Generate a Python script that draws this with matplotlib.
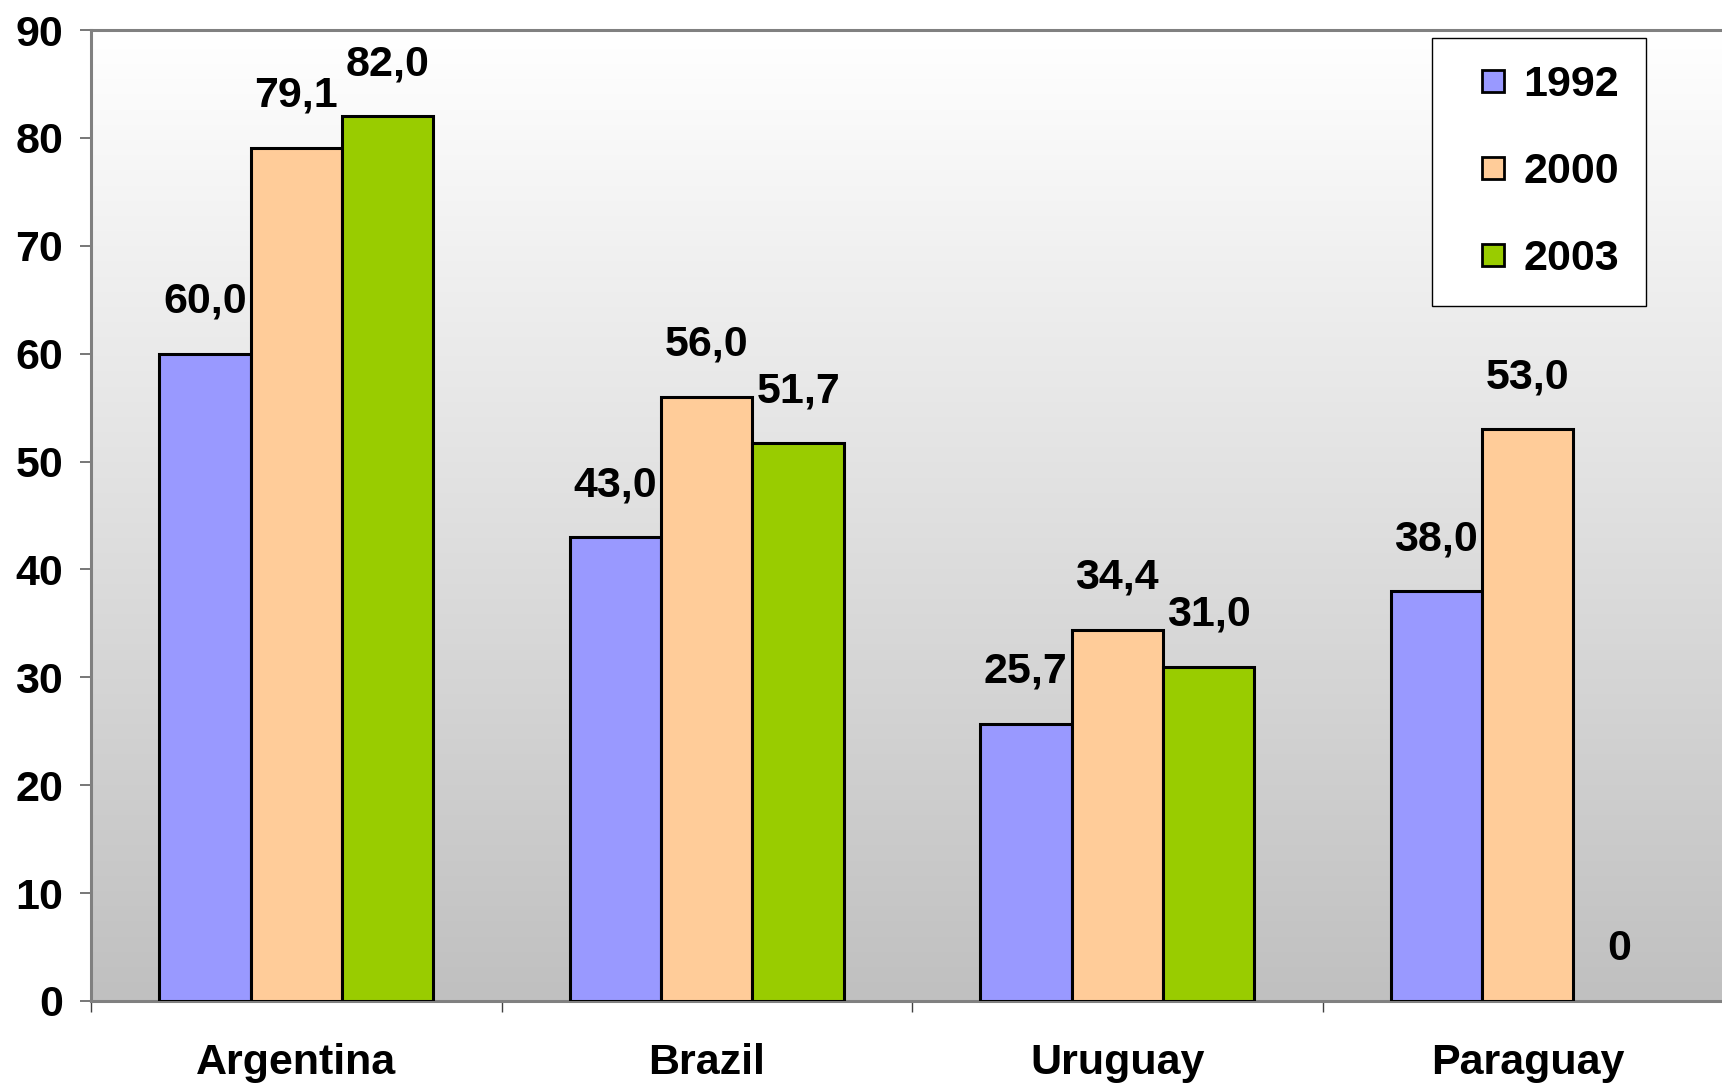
import numpy as np
import matplotlib
matplotlib.use("Agg")
import matplotlib.pyplot as plt
from matplotlib.lines import Line2D
from matplotlib.colors import LinearSegmentedColormap

categories = ["Argentina", "Brazil", "Uruguay", "Paraguay"]
series_names = ["1992", "2000", "2003"]
v1992 = [60.0, 43.0, 25.7, 38.0]
v2000 = [79.1, 56.0, 34.4, 53.0]
v2003 = [82.0, 51.7, 31.0, 0.0]
colors = ["#9999ff", "#ffcc99", "#99cc00"]
yticks = [0, 10, 20, 30, 40, 50, 60, 70, 80, 90]

plt.rcParams['font.family'] = ['Liberation Sans', 'DejaVu Sans']
plt.rcParams['font.weight'] = 'bold'

FS = 31
W, H = 1722, 1084
fig = plt.figure(figsize=(W/100, H/100), dpi=100)
ax = fig.add_axes([91/W, 83/H, 1642/W, (1001-30)/H])

ax.set_xlim(-0.5, 3.5)
ax.set_ylim(0, 90)

# gradient background
grad = np.linspace(0, 1, 256).reshape(-1, 1)
cmap = LinearSegmentedColormap.from_list("bg", ["#c0c0c0", "#ffffff"])
ax.imshow(grad, aspect='auto', cmap=cmap, extent=[-0.5, 3.5, 0, 90],
          origin='lower', zorder=0)

x = np.arange(len(categories))
bw = 0.2227
allvals = [v1992, v2000, v2003]
for i, (vals, col, name) in enumerate(zip(allvals, colors, series_names)):
    xs = x + (i - 1) * bw
    bars = ax.bar(xs, vals, width=bw, color=col, edgecolor='black',
                  linewidth=2.2, zorder=3, label=name)
    for b, v in zip(bars, vals):
        if v == 0:
            b.set_linewidth(0)
            txt = "0"
        else:
            txt = f"{v:.1f}".replace('.', ',')
        ax.annotate(txt, (b.get_x() + b.get_width()/2, v),
                    xytext=(0, 52), textcoords='offset pixels',
                    ha='center', va='center', fontsize=FS,
                    fontweight='bold', zorder=4)

for s in ['top', 'left', 'bottom']:
    ax.spines[s].set_color('#808080')
    ax.spines[s].set_linewidth(2.2)
ax.spines['right'].set_visible(False)

ax.set_yticks(yticks)
ax.set_yticklabels([str(t) for t in yticks])
ax.tick_params(axis='y', direction='out', length=8, width=1.2, color='#606060',
               labelsize=FS, pad=12)

ax.set_xticks([-0.5, 0.5, 1.5, 2.5, 3.5])
ax.set_xticklabels([])
ax.tick_params(axis='x', which='major', direction='out', length=8, width=1,
               color='#404040')
ax.set_xticks(x, minor=True)
ax.set_xticklabels(categories, minor=True)
ax.tick_params(axis='x', which='minor', length=0, labelsize=FS, pad=30)
for lab in ax.get_xticklabels(minor=True):
    lab.set_fontweight('bold')
for lab in ax.get_yticklabels():
    lab.set_fontweight('bold')

handles = [Line2D([], [], linestyle='none', marker='s', markersize=16,
                  markerfacecolor=c, markeredgecolor='black',
                  markeredgewidth=2) for c in colors]
leg = fig.legend(handles, series_names, loc='upper left',
                 bbox_to_anchor=(1432/W, 1 - 38/H), frameon=True,
                 fancybox=False, edgecolor='black', facecolor='white',
                 framealpha=1, prop={'size': FS, 'weight': 'bold'},
                 handlelength=1.6, handletextpad=-0.1,
                 labelspacing=1.1, borderpad=0.62, borderaxespad=0)
leg.get_frame().set_linewidth(1)
leg.set_zorder(10)

fig.savefig("out.png", dpi=100)
